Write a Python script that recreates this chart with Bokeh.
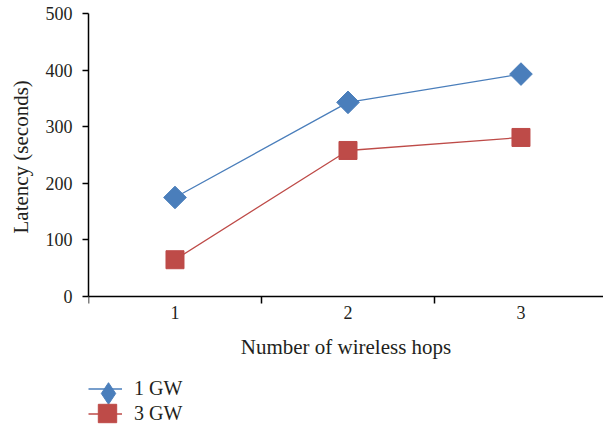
import math
from bokeh.plotting import figure
from bokeh.models import FixedTicker, Legend, LegendItem, Range1d, Title
from bokeh.embed import file_html
from bokeh.resources import INLINE

# Latency by number of wireless hops
hops = [1, 2, 3]
latency_1gw = [175, 343, 393]
latency_3gw = [65, 258, 281]
y_ticks = [0, 100, 200, 300, 400, 500]

FONT = "Liberation Serif"
TEXT = "#231F20"
BLUE = "#4A7EBB"
RED = "#BE4B48"

# The frame runs to the bottom of the canvas so the legend can sit under the
# x axis; the visible value axis only covers 0..500.
p = figure(
    width=603, height=433,
    min_border_top=13, min_border_left=88, min_border_right=0, min_border_bottom=0,
    x_range=Range1d(0.5, 3.477), y_range=Range1d(-242, 500),
    output_backend="svg", toolbar_location=None,
)
p.outline_line_color = None
p.xgrid.visible = False
p.ygrid.visible = False
p.background_fill_color = "white"
p.border_fill_color = "white"

# x axis at y = 0: labels at the category centres, tick marks between categories
xa = p.xaxis[0]
xa.fixed_location = 0
xa.ticker = FixedTicker(ticks=hops, minor_ticks=[0.5, 1.5, 2.5, 3.5])
xa.major_tick_out = 0
xa.major_tick_in = 0
xa.minor_tick_out = 7
xa.minor_tick_in = 0
xa.minor_tick_line_color = "black"
xa.minor_tick_line_width = 1.5
xa.axis_line_color = "black"
xa.axis_line_width = 1.5
xa.major_label_standoff = 2
xa.major_label_text_font = FONT
xa.major_label_text_font_size = "18px"
xa.major_label_text_color = TEXT
xa.axis_label = "Number of wireless hops"
xa.axis_label_text_font = FONT
xa.axis_label_text_font_size = "21px"
xa.axis_label_text_font_style = "normal"
xa.axis_label_text_color = TEXT
xa.axis_label_standoff = 13

ya = p.yaxis[0]
ya.bounds = (0, 500)
ya.ticker = FixedTicker(ticks=y_ticks)
ya.minor_tick_line_color = None
ya.major_tick_out = 6
ya.major_tick_in = 0
ya.major_tick_line_color = "black"
ya.major_tick_line_width = 1.5
ya.axis_line_color = "black"
ya.axis_line_width = 1.5
ya.major_label_standoff = 10
ya.major_label_text_font = FONT
ya.major_label_text_font_size = "18px"
ya.major_label_text_color = TEXT

# value-axis title, centred on the 0..500 span rather than the whole frame
p.add_layout(Title(text="Latency (seconds)", align="left", vertical_align="top",
                   offset=200, standoff=16, text_font=FONT, text_font_size="21px",
                   text_font_style="normal", text_color=TEXT), "left")

l1 = p.line(hops, latency_1gw, line_color=BLUE, line_width=1.3)
m1 = p.scatter(hops, latency_1gw, marker="square", size=16, angle=math.pi / 4,
               fill_color=BLUE, line_color=BLUE)
l2 = p.line(hops, latency_3gw, line_color=RED, line_width=1.3)
m2 = p.scatter(hops, latency_3gw, marker="square", size=18,
               fill_color=RED, line_color=RED)

# legend keys: zero-size copies of the series, so only their legend glyphs
# show (the legend sizes markers from the key box, not from the glyph)
key1 = p.scatter(hops, latency_1gw, marker="diamond", size=0,
                 fill_color=BLUE, line_color=BLUE)
key2 = p.scatter(hops, latency_3gw, marker="square", size=0,
                 fill_color=RED, line_color=RED)

legend_style = dict(orientation="vertical", padding=0, margin=0,
                    border_line_color=None, background_fill_alpha=0,
                    label_text_font=FONT, label_text_color=TEXT)

legend = Legend(
    items=[LegendItem(label="1 GW", renderers=[l1]),
           LegendItem(label="3 GW", renderers=[l2])],
    location=(0, 8), glyph_width=34, glyph_height=21, spacing=2, label_standoff=12,
    label_text_font_size="20px", **legend_style,
)
p.add_layout(legend, "center")

key_legend1 = Legend(
    items=[LegendItem(label="", renderers=[key1])],
    location=(-7, 13), glyph_width=54, glyph_height=54, label_standoff=0,
    label_text_font_size="2px", **legend_style,
)
key_legend2 = Legend(
    items=[LegendItem(label="", renderers=[key2])],
    location=(-4, -3), glyph_width=46, glyph_height=46, label_standoff=0,
    label_text_font_size="2px", **legend_style,
)
p.add_layout(key_legend1, "center")
p.add_layout(key_legend2, "center")

open("out.html", "w").write(file_html(p, INLINE))
